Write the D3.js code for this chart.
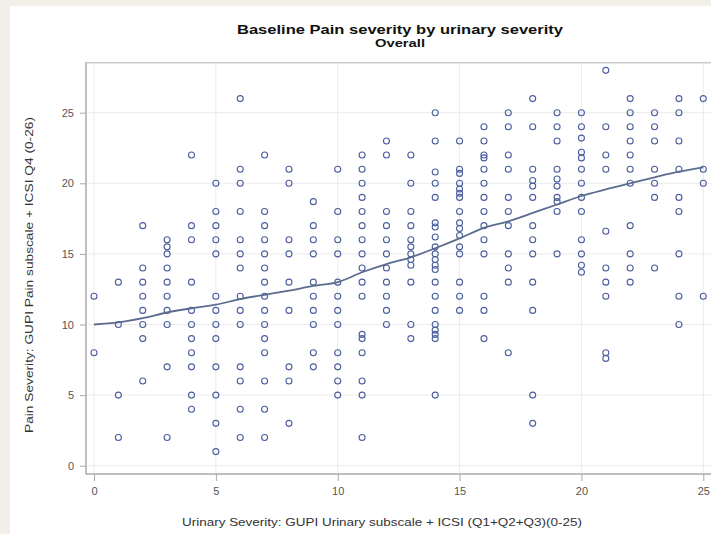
<!DOCTYPE html>
<html><head><meta charset="utf-8">
<script src="https://cdn.jsdelivr.net/npm/d3@7"></script>
<style>html,body{margin:0;padding:0;background:#f2efe8;}svg{display:block;}</style>
</head><body>
<svg id="c" width="711" height="534"></svg>
<script>
const titleText = "Baseline Pain severity by urinary severity";
const subtitleText = "Overall";
const xLabel = "Urinary Severity: GUPI Urinary subscale  + ICSI (Q1+Q2+Q3)(0-25)";
const yLabel = "Pain Severity: GUPI Pain subscale + ICSI Q4 (0-26)";
const xTicks = [0, 5, 10, 15, 20, 25];
const yTicks = [0, 5, 10, 15, 20, 25];

// urinary severity score (x) and the pain severity values observed at each
const urinary = [0,1,2,3,4,5,6,7,8,9,10,11,12,13,14,15,16,17,18,19,20,21,22,23,24,25];
const painByUrinary = [
  [12, 8],
  [13, 10, 5, 2],
  [17, 14, 13, 12, 11, 10, 9, 6],
  [16, 15.5, 15, 14, 13, 12, 11, 10, 7, 2],
  [22, 17, 16, 13, 11, 10, 9, 8, 7, 5, 4],
  [20, 18, 17, 16, 15, 12, 11, 10, 9, 7, 5, 3, 1],
  [26, 21, 20, 18, 16, 15, 14, 12, 11, 10, 7, 6, 4, 2],
  [22, 18, 17, 16, 15, 14, 13, 12, 11, 10, 9, 8, 6, 4, 2],
  [21, 20, 16, 15, 13, 11, 7, 6, 3],
  [18.7, 17, 16, 15, 13, 12, 11, 10, 8, 7],
  [21, 18, 16, 15, 13, 12, 11, 10, 8, 7, 6, 5],
  [22, 21, 20, 19, 18, 17, 16, 15, 14, 13, 12, 9.3, 9, 8, 6, 5, 2],
  [23, 22, 18, 17, 16, 15, 14, 13, 12, 11, 10],
  [22, 20, 18, 17, 16, 15.5, 15, 14.6, 14.2, 13, 10, 9],
  [25, 23, 20.8, 20, 19, 17.2, 16.9, 16.2, 15.5, 15, 14.6, 14.2, 13.9, 13, 12, 11, 10, 9.6, 9.3, 9, 5],
  [23, 21, 20.7, 20, 19.6, 19.3, 19, 18, 17.2, 16.8, 16.3, 15.5, 15, 13, 12, 11],
  [24, 23, 22, 21.8, 21, 20, 19, 18, 17, 16, 15, 12, 11, 9],
  [25, 24, 22, 21, 19, 18, 17, 15, 14, 13, 8],
  [26, 24, 21, 20.2, 19.8, 19, 17, 16, 15, 13, 11, 5, 3],
  [25, 24, 23, 21, 20.3, 19.8, 19, 18.7, 18, 15],
  [25, 24, 23.2, 22.2, 21.8, 21, 20, 19, 18, 16, 15, 14.2, 13.7],
  [28, 24, 22, 21, 16.6, 14, 13, 12, 8, 7.6],
  [26, 25, 24, 23, 22, 21, 20, 17, 15, 14, 13],
  [25, 24, 23, 21, 20, 19, 14],
  [26, 25, 23, 21, 19, 18, 15, 12, 10],
  [26, 21, 20, 12]
];

// loess fit
const loessX = [0,1,2,3,4,5,6,7,8,9,10,11,12,13,14,15,16,17,18,19,20,21,22,23,24,25];
const loessY = [10.0, 10.15, 10.45, 10.85, 11.15, 11.4, 11.8, 12.1, 12.4, 12.73, 13.0, 13.7, 14.28, 14.76, 15.4, 16.1, 16.85, 17.3, 17.9, 18.5, 19.1, 19.57, 20.0, 20.42, 20.82, 21.13];

const svg = d3.select("#c");
const W = 711, H = 534;
const FONT = "Liberation Sans, Arial, sans-serif";
const frame = {left: 86, top: 62.7, right: 760, bottom: 474};

const x = d3.scaleLinear().domain([0, 25]).range([94, 703.3]);
const y = d3.scaleLinear().domain([0, 25]).range([465.7, 112.7]);

// white panel
svg.append("rect").attr("x", 10).attr("y", 6).attr("width", W - 10).attr("height", H - 6).attr("fill", "#ffffff");

// plot wall
svg.append("rect").attr("x", frame.left).attr("y", frame.top)
  .attr("width", frame.right - frame.left).attr("height", frame.bottom - frame.top)
  .attr("fill", "#ffffff").attr("stroke", "#c9c9c9").attr("stroke-width", 1.5);

// grid
const g = svg.append("g");
g.selectAll(".gx").data(xTicks).join("line")
  .attr("x1", d => x(d)).attr("x2", d => x(d))
  .attr("y1", frame.top).attr("y2", frame.bottom)
  .attr("stroke", "#ebebeb").attr("stroke-width", 1);
g.selectAll(".gy").data(yTicks).join("line")
  .attr("x1", frame.left).attr("x2", W)
  .attr("y1", d => y(d)).attr("y2", d => y(d))
  .attr("stroke", "#ebebeb").attr("stroke-width", 1);

// axes
const xAxis = d3.axisBottom(x).tickValues(xTicks).tickSize(7).tickPadding(6).tickFormat(d3.format("d"));
const yAxis = d3.axisLeft(y).tickValues(yTicks).tickSize(6).tickPadding(6).tickFormat(d3.format("d"));
const xa = svg.append("g").attr("transform", `translate(0,${frame.bottom})`).call(xAxis);
const ya = svg.append("g").attr("transform", `translate(${frame.left},0)`).call(yAxis);
[xa, ya].forEach(a => {
  a.select(".domain").remove();
  a.selectAll(".tick line").attr("stroke", "#a8a8a8");
  a.selectAll(".tick text").attr("fill", "#555").attr("font-family", FONT).attr("font-size", "11px");
});
svg.append("line").attr("x1", frame.left).attr("x2", frame.left).attr("y1", frame.top).attr("y2", frame.bottom).attr("stroke", "#a8a8a8");
svg.append("line").attr("x1", frame.left).attr("x2", W).attr("y1", frame.bottom).attr("y2", frame.bottom).attr("stroke", "#a8a8a8");

// points
const pts = [];
urinary.forEach((u, i) => painByUrinary[i].forEach(p => pts.push([u, p])));
svg.append("g").selectAll("circle").data(pts).join("circle")
  .attr("cx", d => x(d[0])).attr("cy", d => y(d[1])).attr("r", 3)
  .attr("fill", "none").attr("stroke", "#4a5e9e").attr("stroke-width", 1.1);

// loess
const line = d3.line().x((d, i) => x(loessX[i])).y(d => y(d)).curve(d3.curveMonotoneX);
svg.append("path").datum(loessY).attr("d", line)
  .attr("fill", "none").attr("stroke", "#5b6c8f").attr("stroke-width", 1.8);

// titles
svg.append("text").attr("x", 400).attr("y", 34).attr("text-anchor", "middle")
  .attr("font-family", FONT).attr("font-weight", "bold").attr("font-size", "13px")
  .attr("textLength", 326).attr("lengthAdjust", "spacingAndGlyphs")
  .attr("fill", "#111").text(titleText);
svg.append("text").attr("x", 400).attr("y", 47).attr("text-anchor", "middle")
  .attr("font-family", FONT).attr("font-weight", "bold").attr("font-size", "10.5px")
  .attr("textLength", 50).attr("lengthAdjust", "spacingAndGlyphs")
  .attr("fill", "#111").text(subtitleText);

// axis labels
svg.append("text").attr("x", 382).attr("y", 526).attr("text-anchor", "middle")
  .attr("font-family", FONT).attr("font-size", "11.5px")
  .attr("textLength", 400).attr("lengthAdjust", "spacingAndGlyphs")
  .attr("fill", "#333").text(xLabel);
svg.append("text").attr("transform", "translate(33,275) rotate(-90)").attr("text-anchor", "middle")
  .attr("font-family", FONT).attr("font-size", "11.5px")
  .attr("textLength", 316).attr("lengthAdjust", "spacingAndGlyphs")
  .attr("fill", "#333").text(yLabel);
</script>
</body></html>
